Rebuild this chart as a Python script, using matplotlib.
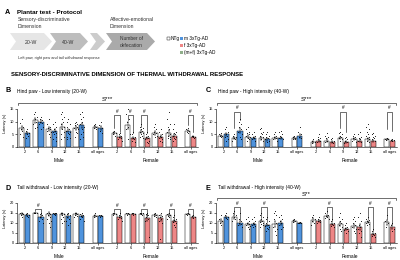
import matplotlib.pyplot as plt
from matplotlib.patches import Polygon, Rectangle
import numpy as np

plt.rcParams['font.family'] = ['Liberation Sans', 'DejaVu Sans']

ages = ["2", "6", "9", "12", "15", "all ages"]

# ---- B: hind paw, low intensity (20-W) ----
b_m_ntg = [7.5, 10.5, 7, 8, 7.5, 8]
b_m_tg = [5.5, 10, 6.5, 6.5, 8.5, 7.5]
b_f_ntg = [5.5, 8.5, 6, 5.5, 5.5, 6.5]
b_f_tg = [4, 3.5, 3.5, 4, 4.5, 4]
b_m_ntg_pts = [[11, 9.5, 8, 7, 6.5, 5, 4], [14, 13, 12, 11, 10, 9, 8, 7.5],
               [11, 9, 8, 7.5, 7, 6.5, 6, 5, 4], [14, 13, 12, 11, 10, 9, 8, 7, 6, 5, 4, 3],
               [10, 9.5, 9, 8.5, 8, 7.5, 7, 6, 5.5, 4], [9, 8.5, 8, 7.5, 7]]
b_m_tg_pts = [[7, 6.5, 5.5, 5, 4.5, 3.5], [12, 11, 10.5, 10, 9.5, 9, 8, 7],
              [10, 9, 8, 7, 6.5, 6, 5.5, 5, 4, 3, 2.5], [11, 10, 9, 8, 7, 6.5, 6, 5.5, 5, 4, 3.5, 3],
              [14, 13, 12, 11, 10, 9, 8, 7, 6, 5, 4, 3], [10, 8.5, 7.5, 6.5, 5.5]]
b_f_ntg_pts = [[6.5, 6, 5.5, 5, 4.5], [15, 13, 11, 10, 8, 7, 5, 3],
               [9, 8, 7.5, 7, 6.5, 6, 5.5, 5, 4.5, 4, 3.5], [9, 8, 7, 6, 5.5, 5, 4.5, 4],
               [14, 11, 9, 8, 7, 6, 5, 4.5, 4, 3.5, 3], [7.5, 7, 6.5, 6, 5.5]]
b_f_tg_pts = [[5.5, 5, 4.5, 4, 3.5, 3, 2.5], [6, 5, 4, 3.5, 3, 2.5, 2],
              [6, 5, 4.5, 4, 3.5, 3, 2.5, 2, 1.5], [7, 6, 5, 4.5, 4, 3.5, 3, 2.5, 2],
              [9, 7, 6, 5.5, 5, 4.5, 4, 3.5, 3, 2.5], [4.5, 4.2, 4, 3.8, 3.5]]
b_sig = [6, 7, 8, 11]

# ---- C: hind paw, high intensity (40-W) ----
c_m_ntg = [4.5, 3.5, 4, 3.5, 3.5, 3.5]
c_m_tg = [5, 6.5, 3.5, 3, 3.5, 4.5]
c_f_ntg = [2, 2.5, 3.5, 3, 3, 3]
c_f_tg = [2.5, 2, 2, 2.5, 2.5, 2.5]
c_m_ntg_pts = [[5.5, 5, 4.5, 4.5, 4], [5, 4.5, 4, 3.5, 3, 2.5],
               [8, 7, 6, 5.5, 5, 4.5, 4, 3.5, 3, 2.5], [7.5, 7, 6, 5.5, 5, 4.5, 4, 3, 2.5],
               [6, 5, 4.5, 4, 3.5, 3, 2.5], [4.5, 4, 3.5, 3, 3]]
c_m_tg_pts = [[8, 7, 6, 5, 4.5, 4, 3, 2.5], [11, 10, 9, 8, 7, 6, 5, 4, 3],
              [6, 5, 4.5, 4, 3.5, 3, 2.5], [6, 5, 4.5, 4, 3.5, 3, 2.5, 2],
              [6.5, 6, 5, 4.5, 4, 3.5, 3], [8, 6, 5, 4, 3.5]]
c_f_ntg_pts = [[3, 2.5, 2, 1.5], [5.5, 4.5, 4, 3.5, 2.5, 2],
               [6, 5.5, 5, 4.5, 4, 3.5, 3, 2.5], [5, 4.5, 4, 3.5, 3, 2.5, 2],
               [9, 8, 7, 6, 5, 4.5, 4, 3.5, 3, 2.5, 2], [3.5, 3.2, 3, 2.8]]
c_f_tg_pts = [[5, 4, 3.5, 3, 2.5, 2], [3.5, 3, 2.5, 2, 1.5],
              [4, 3.5, 3, 2.5, 2, 1.5], [6, 5, 4, 3.5, 3, 2.5, 2],
              [5.5, 5, 4.5, 4, 3.5, 3, 2.5], [3, 2.8, 2.6, 2.4]]
c_sig = [1, 8, 11]

# ---- D: tail withdrawal, low intensity (20-W) ----
d_m_ntg = [14.5, 15, 14.5, 14.5, 14.5, 13.5]
d_m_tg = [14, 13, 14.5, 13.5, 13.5, 13.5]
d_f_ntg = [14.5, 14.5, 14.5, 14, 14, 14.5]
d_f_tg = [13, 14.5, 12.5, 12.5, 11, 13]
d_m_ntg_pts = [[15, 15, 14.5, 14, 13], [15, 15, 15, 15],
               [15, 15, 14.5, 14, 13, 12, 11, 10, 8], [15, 15, 14.5, 14, 13, 12, 11, 10],
               [15, 15, 14.5, 14, 13.5, 13], [15, 14, 13.5, 13]]
d_m_tg_pts = [[15, 14.5, 14, 13.5, 13], [15, 14.5, 14, 13, 12, 11, 10],
              [15, 15, 15, 14.5, 14], [15, 14.5, 14, 13, 12, 11, 10, 9],
              [15, 14.5, 14, 13.5, 13, 12, 11], [14, 13.8, 13.5, 13.2]]
d_f_ntg_pts = [[15, 15, 14.5, 14], [15, 15, 14.5, 14],
               [15, 15, 15, 14.5, 14], [15, 14.5, 14, 13.5, 13],
               [15, 14.5, 14, 13.5, 13, 12], [15, 14.5, 14.5, 14]]
d_f_tg_pts = [[15, 14, 13.5, 13, 12.5, 12, 11], [15, 15, 14.5, 14],
              [15, 14.5, 14, 13, 12, 11, 3], [15, 14, 13.5, 13, 12, 11, 10, 2],
              [14, 13, 12, 11.5, 11, 10.5, 10, 9, 8], [14, 13.5, 13, 12.5]]
d_sig = [1, 6, 8, 10, 11]

# ---- E: tail withdrawal, high intensity (40-W) ----
e_m_ntg = [11, 13, 9.5, 11, 9.5, 11]
e_m_tg = [13, 10, 9.5, 9, 10, 10]
e_f_ntg = [11.5, 13.5, 9.5, 8.5, 10.5, 10.5]
e_f_tg = [11, 9.5, 7, 8, 4.5, 8]
e_m_ntg_pts = [[14, 12, 11, 10, 9], [16, 15, 14, 13, 12, 11],
               [13, 12, 11, 10, 9.5, 9, 8.5, 8, 7], [15, 14, 13, 12, 11, 10.5, 10, 9.5, 9, 8],
               [16, 15, 14, 12, 10, 8, 7, 6, 4], [12, 11.5, 11, 10.5]]
e_m_tg_pts = [[15, 14, 13, 12.5, 12], [15, 12, 11, 10, 9.5, 9, 8],
              [13, 12, 11, 10, 9.5, 9, 8.5, 8], [13, 12, 11, 10, 9, 8.5, 8, 7.5, 7, 6],
              [14, 13, 12, 11, 10, 9, 8, 7], [10.5, 10.2, 10, 9.8]]
e_f_ntg_pts = [[14, 13, 12, 11, 10, 9], [16, 15, 14, 13.5, 13, 12.5, 12],
               [15, 13, 12, 11, 10, 9, 8, 7, 6], [13, 12, 11, 10, 9, 8, 7, 6, 5],
               [13, 12, 11.5, 11, 10.5, 10, 9.5, 9], [14, 11, 10, 8]]
e_f_tg_pts = [[13, 12, 11.5, 11, 10.5, 10], [12, 11, 10, 9.5, 9, 8.5, 8],
              [10, 9, 8, 7.5, 7, 6.5, 6, 5], [15, 13, 11, 9, 8, 7, 6, 5, 3],
              [7, 6, 5, 4.5, 4, 3.5, 3], [10, 9, 7, 6]]
e_sig = [1, 3, 7, 10, 11]

BLUE = '#4f93dd'
RED = '#ee8686'
GREEN = '#8fae8a'

xm = np.array([0, 1, 2, 3, 4, 5.4])
xf = np.array([6.8, 7.8, 8.8, 9.8, 10.8, 12.2])
jit = np.array([0, -0.1, 0.1, -0.05, 0.05, -0.13, 0.13, -0.02, 0.08, -0.08, 0.11, -0.11, 0.03])
off = 0.21

fig = plt.figure(figsize=(4, 2.6), dpi=100)
ov = fig.add_axes([0, 0, 1, 1])
ov.set_xlim(0, 400)
ov.set_ylim(260, 0)
ov.axis('off')


def px_axes(l, t, r, b):
    return fig.add_axes([l / 400, 1 - b / 260, (r - l) / 400, (b - t) / 260])


def bars(ax, xs, means, pts, color):
    ax.bar(xs, means, width=0.38, color=color, edgecolor='black', linewidth=0.35, zorder=2)
    for x, m, p in zip(xs, means, pts):
        p = np.array(p)
        sem = p.std(ddof=1) / np.sqrt(len(p))
        ax.errorbar(x, m, yerr=sem, color='black', lw=0.35, capsize=0.8, capthick=0.35, zorder=3)
        ax.scatter(x + jit[:len(p)], p, s=0.55, color='black', lw=0, zorder=4)


def panel(ax, m_ntg, m_tg, f_ntg, f_tg, pm_ntg, pm_tg, pf_ntg, pf_tg,
          ytop, ylim_top, sig, br_y, leg_off, s_text, s_y, label_y):
    bars(ax, xm - off, m_ntg, pm_ntg, 'white')
    bars(ax, xm + off, m_tg, pm_tg, BLUE)
    bars(ax, xf - off, f_ntg, pf_ntg, 'white')
    bars(ax, xf + off, f_tg, pf_tg, RED)
    ax.set_xlim(-0.55, 12.75)
    ax.set_ylim(0, ylim_top)
    ax.set_yticks(np.arange(0, ytop + 1, 5))
    ax.spines['left'].set_bounds(0, ytop)
    for s in ['top', 'right']:
        ax.spines[s].set_visible(False)
    for s in ['left', 'bottom']:
        ax.spines[s].set_linewidth(0.4)
    ax.set_xticks(np.concatenate([xm, xf]))
    ax.set_xticklabels(ages + ages)
    ax.tick_params(labelsize=2.8, width=0.4, length=1.2, pad=1)
    ax.set_ylabel('Latency (s)', fontsize=2.8, labelpad=1.5)
    ax.text(2.5, label_y, 'Male', transform=ax.get_xaxis_transform(), ha='center', va='center', fontsize=3.5)
    ax.text(9.3, label_y, 'Female', transform=ax.get_xaxis_transform(), ha='center', va='center', fontsize=3.5)
    xall = np.concatenate([xm, xf])
    ntg = list(m_ntg) + list(f_ntg)
    tg = list(m_tg) + list(f_tg)
    for g in sig:
        x = xall[g]
        l, r = x - off, x + off
        y1 = min(ntg[g] + leg_off, br_y - 0.6)
        y2 = min(tg[g] + leg_off, br_y - 0.6)
        ax.plot([l, l, r, r], [y1, br_y, br_y, y2], color='black', lw=0.4, clip_on=False, zorder=5)
        ax.text(x, br_y + 0.5, '#', ha='center', va='bottom', fontsize=3.4, zorder=5)
    if s_text:
        ax.plot([-0.5, -0.5, 12.7, 12.7], [s_y - 1, s_y, s_y, s_y - 1], color='black', lw=0.4, clip_on=False)
        ax.text(6.1, s_y + 0.3, s_text, ha='center', va='bottom', fontsize=4.4)


# ---- panel A (protocol) ----
ov.text(5, 12, 'A', fontsize=5.2, fontweight='bold', va='center')
ov.text(17, 12, 'Plantar test - Protocol', fontsize=4.5, fontweight='bold', va='center')
ov.text(18, 17, 'Sensory-discriminative\nDimension', fontsize=3.7, va='top', color='#333333', linespacing=1.5)
ov.text(110, 17, 'Affective-emotional\nDimension', fontsize=3.7, va='top', color='#333333', linespacing=1.5)


def chevron(x0, x1, tip, notch, y0, y1, color):
    ym = (y0 + y1) / 2
    pts = [(x0, y0), (x1, y0), (x1 + tip, ym), (x1, y1), (x0, y1), (x0 + notch, ym)]
    ov.add_patch(Polygon(pts, closed=True, facecolor=color, edgecolor='none'))


chevron(10, 44, 8, 6, 33, 50, '#e6e6e6')
chevron(50, 80, 8, 6, 33, 50, '#bdbdbd')
chevron(90, 97, 8, 6, 33, 50, '#cccccc')
chevron(106, 147, 8, 6, 33, 50, '#aaaaaa')
ov.text(31, 42, '20-W', fontsize=3.7, ha='center', va='center', color='#333333')
ov.text(68, 42, '40-W', fontsize=3.7, ha='center', va='center', color='#333333')
ov.text(131, 42, 'Number of\ndefecation', fontsize=3.5, ha='center', va='center', color='#333333', linespacing=1.3)
ov.text(18, 58, 'Left paw, right paw and tail withdrawal response', fontsize=2.8, va='center', color='#333333')

# legend
ov.add_patch(Rectangle((167, 37), 2.8, 2.8, facecolor='white', edgecolor='black', lw=0.3))
ov.text(170.5, 38.4, 'NTg', fontsize=3.4, va='center')
for yy, col, lab in [(38.4, BLUE, 'm 3xTg-AD'), (45.4, RED, 'f 3xTg-AD'), (52.4, GREEN, '(m+f) 3xTg-AD')]:
    ov.add_patch(Rectangle((180, yy - 1.4), 2.8, 2.8, facecolor=col, edgecolor='none'))
    ov.text(183.8, yy, lab, fontsize=3.4, va='center')

ov.text(11, 75, 'SENSORY-DISCRIMINATIVE DIMENSION OF THERMAL WITHDRAWAL RESPONSE',
        fontsize=4.3, fontweight='bold', va='center')

# panel labels and titles
ov.text(5, 91, 'B', fontsize=5.2, fontweight='bold', va='center')
ov.text(17, 91, 'Hind paw - Low intensity (20-W)', fontsize=3.5, va='center')
ov.text(206, 91, 'C', fontsize=5.2, fontweight='bold', va='center')
ov.text(218, 91, 'Hind paw - High intensity (40-W)', fontsize=3.5, va='center')
ov.text(5, 188, 'D', fontsize=5.2, fontweight='bold', va='center')
ov.text(17, 188, 'Tail withdrawal - Low intensity (20-W)', fontsize=3.5, va='center')
ov.text(206, 188, 'E', fontsize=5.2, fontweight='bold', va='center')
ov.text(218, 188, 'Tail withdrawal - High intensity (40-W)', fontsize=3.5, va='center')

ax_b = px_axes(17, 100, 198, 147)
panel(ax_b, b_m_ntg, b_m_tg, b_f_ntg, b_f_tg, b_m_ntg_pts, b_m_tg_pts, b_f_ntg_pts, b_f_tg_pts,
      15, 18.55, b_sig, 12.5, 2.0, 'S***', 17.4, -0.28)
ax_c = px_axes(216, 100, 397, 147)
panel(ax_c, c_m_ntg, c_m_tg, c_f_ntg, c_f_tg, c_m_ntg_pts, c_m_tg_pts, c_f_ntg_pts, c_f_tg_pts,
      15, 18.55, c_sig, 14.0, 4.0, 'S***', 17.4, -0.28)
ax_d = px_axes(17, 193, 198, 243)
panel(ax_d, d_m_ntg, d_m_tg, d_f_ntg, d_f_tg, d_m_ntg_pts, d_m_tg_pts, d_f_ntg_pts, d_f_tg_pts,
      20, 25, d_sig, 17.0, 1.2, None, 0, -0.26)
ax_e = px_axes(216, 193, 397, 243)
panel(ax_e, e_m_ntg, e_m_tg, e_f_ntg, e_f_tg, e_m_ntg_pts, e_m_tg_pts, e_f_ntg_pts, e_f_tg_pts,
      20, 25, e_sig, 18.0, 1.5, 'S**', 22.5, -0.26)

fig.savefig('out.png', dpi=100)
